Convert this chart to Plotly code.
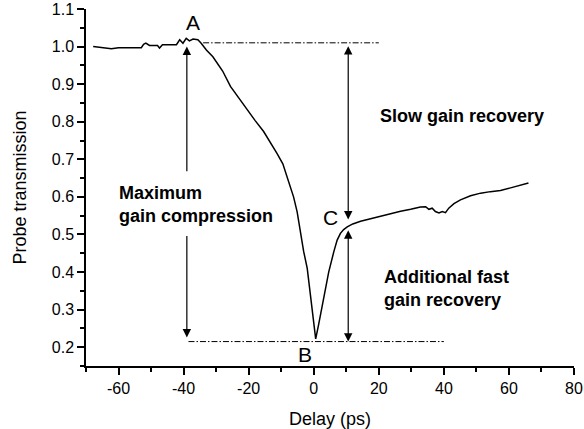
import plotly.graph_objects as go

# ---- data ----
delay_ps = [-67.8, -65, -62.2, -60, -56, -53, -52.3, -51.6, -50.5, -48, -47.4, -46.5,
            -44, -42.2, -41.2, -40.2, -39.2, -38.2, -37.1, -35.6, -34.6, -33, -31, -28,
            -25.6, -23, -20.5, -18, -15.4, -13, -11.3, -9.5, -8.2, -7, -6.2, -5.1, -4.1,
            -3.1, -2.0, -1.2, -0.3, 0.6, 1.5, 3.1, 4.6, 6.2, 7.2, 8.2, 9.2, 10.3, 12,
            14.4, 17, 20.5, 23, 26.7, 29.8, 32.8, 34.4, 35.4, 36.4, 37.4, 38.5, 39.5,
            40.5, 41.5, 43.1, 45.1, 48.2, 51.3, 54.3, 57.4, 60.5, 63, 66.0]
transmission = [1.0, 0.998, 0.994, 0.997, 0.997, 0.997, 1.006, 1.009, 1.003, 1.003, 0.996, 1.005,
                1.005, 1.005, 1.018, 1.009, 1.022, 1.015, 1.02, 1.018, 1.009, 0.991, 0.973, 0.935,
                0.894, 0.862, 0.832, 0.803, 0.774, 0.742, 0.716, 0.688, 0.654, 0.625, 0.600, 0.560, 0.504,
                0.455, 0.410, 0.350, 0.280, 0.222, 0.260, 0.335, 0.400, 0.455, 0.485, 0.503, 0.513, 0.520, 0.528,
                0.535, 0.541, 0.549, 0.554, 0.562, 0.567, 0.573, 0.574, 0.567, 0.570, 0.561, 0.557, 0.561,
                0.558, 0.570, 0.582, 0.592, 0.603, 0.610, 0.614, 0.617, 0.624, 0.630, 0.637]

x_tickvals = [-60, -40, -20, 0, 20, 40, 60, 80]
x_ticktext = ["-60", "-40", "-20", "0", "20", "40", "60", "80"]
y_tickvals = [0.2, 0.3, 0.4, 0.5, 0.6, 0.7, 0.8, 0.9, 1.0, 1.1]
y_ticktext = ["0.2", "0.3", "0.4", "0.5", "0.6", "0.7", "0.8", "0.9", "1.0", "1.1"]

level_top = 1.01
level_bottom = 0.215
ref_top_x = [-34, 20]
ref_bottom_x = [-38.5, 40]
arrow_left_x = -39.0
arrow_right_x = 10.6
level_c = 0.54

font = "Liberation Sans, Arial, sans-serif"

fig = go.Figure()
fig.add_trace(go.Scatter(x=delay_ps, y=transmission, mode="lines",
                         line=dict(color="black", width=1.5), showlegend=False))
fig.add_trace(go.Scatter(x=ref_top_x, y=[level_top, level_top], mode="lines",
                         line=dict(color="black", width=1, dash="6px,2px,1.5px,2px"),
                         showlegend=False))
fig.add_trace(go.Scatter(x=ref_bottom_x, y=[level_bottom, level_bottom], mode="lines",
                         line=dict(color="black", width=1, dash="6px,2px,1.5px,2px"),
                         showlegend=False))

arrow = dict(showarrow=True, axref="x", ayref="y", xref="x", yref="y", text="",
             arrowhead=2, arrowsize=1.4, arrowwidth=1.2, arrowcolor="black",
             standoff=0, startstandoff=0)
# left arrows
fig.add_annotation(x=arrow_left_x, y=1.0, ax=arrow_left_x, ay=0.664, **arrow)
fig.add_annotation(x=arrow_left_x, y=0.226, ax=arrow_left_x, ay=0.5, **arrow)
# right double arrows
fig.add_annotation(x=arrow_right_x, y=level_c, ax=arrow_right_x, ay=1.005,
                   arrowside="end+start", startarrowhead=2, startarrowsize=1.4, **arrow)
fig.add_annotation(x=arrow_right_x, y=level_bottom, ax=arrow_right_x, ay=0.515,
                   arrowside="end+start", startarrowhead=2, startarrowsize=1.4, **arrow)

lab = dict(showarrow=False, xref="x", yref="y", font=dict(family=font, size=21, color="black"))
fig.add_annotation(x=-37.0, y=1.063, text="A", **lab)
fig.add_annotation(x=-2.6, y=0.18, text="B", **lab)
fig.add_annotation(x=5.1, y=0.546, text="C", **lab)

bold = dict(showarrow=False, xref="x", yref="y", xanchor="left", align="left",
            font=dict(family=font, size=18, color="black"))
fig.add_annotation(x=-60.5, y=0.579, text="<b>Maximum<br>gain compression</b>", **bold)
fig.add_annotation(x=19.6, y=0.814, text="<b>Slow gain recovery</b>", **bold)
fig.add_annotation(x=20.9, y=0.356, text="<b>Additional fast<br>gain recovery</b>", **bold)

axis_common = dict(showline=True, linecolor="black", linewidth=1.5, ticks="outside",
                   ticklen=7, tickwidth=1.5, tickcolor="black", showgrid=False,
                   zeroline=False, mirror=False, automargin=False,
                   tickfont=dict(family=font, size=16, color="black"))
fig.update_xaxes(range=[-70, 80], tickmode="array", tickvals=x_tickvals, ticktext=x_ticktext,
                 minor=dict(tickmode="linear", tick0=-70, dtick=10, ticklen=4, tickwidth=1.5,
                            tickcolor="black", ticks="outside", showgrid=False),
                 title=dict(text="Delay (ps)", font=dict(family=font, size=18, color="black"), standoff=16),
                 **axis_common)
fig.update_yaxes(range=[0.15, 1.1], tickmode="array", tickvals=y_tickvals, ticktext=y_ticktext,
                 minor=dict(tickmode="linear", tick0=0.15, dtick=0.05, ticklen=4, tickwidth=1.5,
                            tickcolor="black", ticks="outside", showgrid=False),
                 title=dict(text="Probe transmission", font=dict(family=font, size=18, color="black"), standoff=20),
                 **axis_common)

fig.update_layout(width=584, height=429, margin=dict(l=86, r=10, t=9, b=63),
                  plot_bgcolor="white", paper_bgcolor="white", font=dict(family=font))

fig.write_html("out.html")
